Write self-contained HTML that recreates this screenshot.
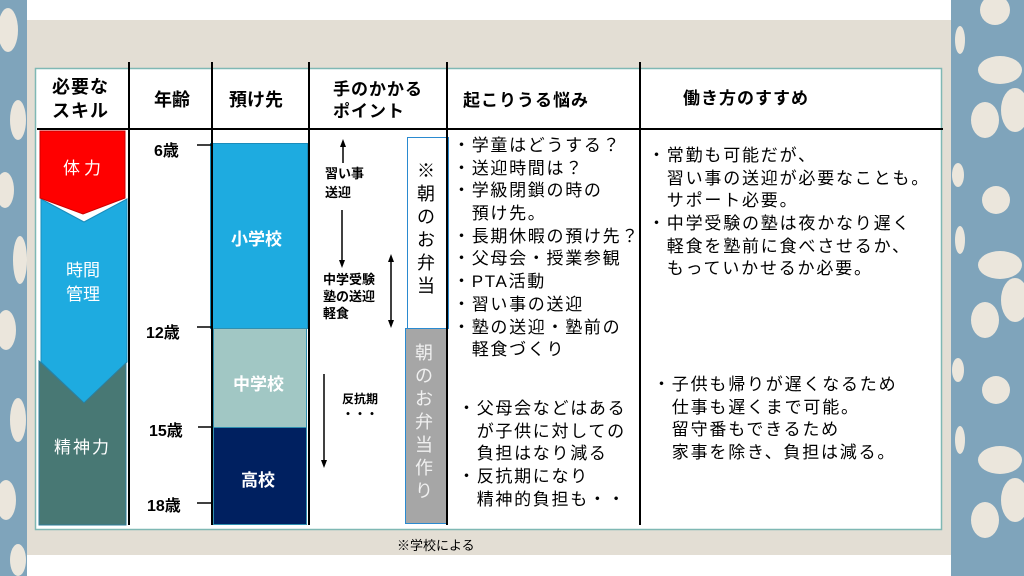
<!DOCTYPE html>
<html><head><meta charset="utf-8">
<style>
*{margin:0;padding:0;box-sizing:border-box}
body{width:1024px;height:576px;position:relative;overflow:hidden;background:#fff;font-family:"Liberation Sans","Noto Sans CJK JP",sans-serif;color:#000}
.a{position:absolute}
.b{font-weight:bold}
.vl{position:absolute;width:1.5px;background:#000}
.hl{position:absolute;height:1.5px;background:#000}
.w{color:#fff}
.lines div{height:22.7px;line-height:22.7px;white-space:nowrap}
</style></head><body>
<svg class="a" style="left:0;top:0" width="1024" height="576">
<rect x="0" y="0" width="27" height="576" fill="#7fa4bb"/>
<g fill="#ebe6dc">
<ellipse cx="8" cy="30" rx="10" ry="22"/><ellipse cx="18" cy="120" rx="8" ry="20"/><ellipse cx="5" cy="190" rx="9" ry="18"/>
<ellipse cx="20" cy="260" rx="7" ry="24"/><ellipse cx="6" cy="330" rx="10" ry="20"/><ellipse cx="18" cy="420" rx="8" ry="22"/>
<ellipse cx="6" cy="500" rx="10" ry="20"/><ellipse cx="18" cy="560" rx="8" ry="16"/>
</g>
<rect x="951" y="0" width="73" height="576" fill="#7fa4bb"/>
<g fill="#ebe6dc">
<circle cx="995" cy="10" r="15"/><ellipse cx="1000" cy="70" rx="22" ry="14"/><ellipse cx="1015" cy="110" rx="14" ry="22"/><ellipse cx="985" cy="120" rx="14" ry="18"/>
<circle cx="996" cy="200" r="14"/><ellipse cx="1000" cy="265" rx="22" ry="14"/><ellipse cx="1015" cy="300" rx="14" ry="22"/><ellipse cx="985" cy="320" rx="14" ry="18"/>
<circle cx="996" cy="390" r="14"/><ellipse cx="1000" cy="460" rx="22" ry="14"/><ellipse cx="1015" cy="500" rx="14" ry="22"/><ellipse cx="985" cy="520" rx="14" ry="18"/>
<ellipse cx="960" cy="40" rx="5" ry="14"/><ellipse cx="958" cy="175" rx="6" ry="12"/><ellipse cx="960" cy="240" rx="5" ry="14"/><ellipse cx="958" cy="370" rx="6" ry="12"/><ellipse cx="960" cy="440" rx="5" ry="14"/>
</g>
<rect x="27" y="20" width="924" height="535" fill="#e3ded4"/>
<rect x="35.5" y="68.5" width="906" height="461" fill="#fff" stroke="#7fb8b4" stroke-width="1.5"/>
<polygon points="41,199 84,222 127,199 127,362 84,403 41,362" fill="#1eabe0" stroke="#1a8cbb" stroke-width="1"/>
<polygon points="40,131 125,131 125,198 83,214 40,198" fill="#ff0000" stroke="#c00" stroke-width="1"/>
<polygon points="39,361 84,403 126,363 126,525 39,525" fill="#487874" stroke="#2f7f9b" stroke-width="1"/>
<rect x="210.5" y="143.5" width="97" height="185" fill="#1eabe0" stroke="#1a8cbb"/>
<rect x="213.5" y="328.5" width="93" height="99" fill="#a1c7c4" stroke="#2f8fb0"/>
<rect x="213.5" y="427.5" width="93" height="97" fill="#002060" stroke="#2f8fb0"/>
<rect x="407.5" y="137.5" width="41" height="191" fill="#fff" stroke="#2a8ad0"/>
<rect x="405.5" y="328.5" width="42" height="195" fill="#a6a6a6" stroke="#2a8ad0"/>
<g stroke="#000" stroke-width="1.5">
<line x1="197" y1="145" x2="211" y2="145"/><line x1="197" y1="327" x2="211" y2="327"/>
<line x1="198" y1="427" x2="212" y2="427"/><line x1="197" y1="503" x2="211" y2="503"/>
<line x1="343" y1="145" x2="343" y2="163"/><line x1="342" y1="210" x2="342" y2="262"/>
<line x1="391" y1="260" x2="391" y2="322"/><line x1="324" y1="374" x2="324" y2="462"/>
</g>
<g fill="#000">
<polygon points="343,139 340,147 346,147"/><polygon points="342,268 339,260 345,260"/>
<polygon points="391,254 388,262 394,262"/><polygon points="391,328 388,320 394,320"/>
<polygon points="324,468 321,460 327,460"/>
</g>
</svg>
<div class="vl" style="left:128px;top:62px;height:463px"></div>
<div class="vl" style="left:211px;top:62px;height:463px"></div>
<div class="vl" style="left:308px;top:62px;height:463px"></div>
<div class="vl" style="left:446px;top:62px;height:463px"></div>
<div class="vl" style="left:639px;top:62px;height:463px"></div>
<div class="hl" style="left:37px;top:128px;width:906px"></div>
<div class="a b" style="left:52px;top:75px;font-size:18px;line-height:24px;letter-spacing:1px">必要な<br>スキル</div>
<div class="a b" style="left:154px;top:86px;font-size:18px">年齢</div>
<div class="a b" style="left:229px;top:86px;font-size:18px">預け先</div>
<div class="a b" style="left:333px;top:79px;font-size:17px;line-height:22px;letter-spacing:1px">手のかかる<br>ポイント</div>
<div class="a b" style="left:463px;top:86px;font-size:17px;letter-spacing:1px">起こりうる悩み</div>
<div class="a b" style="left:683px;top:84px;font-size:17px;letter-spacing:1px">働き方のすすめ</div>
<div class="a w" style="left:63px;top:154px;font-size:17px;letter-spacing:4px">体力</div>
<div class="a w" style="left:66px;top:259px;font-size:17px;line-height:24px">時間<br>管理</div>
<div class="a w" style="left:54px;top:433px;font-size:17px;letter-spacing:2px">精神力</div>
<div class="a b" style="left:154px;top:137px;font-size:16px">6歳</div>
<div class="a b" style="left:146px;top:319px;font-size:16px">12歳</div>
<div class="a b" style="left:149px;top:417px;font-size:16px">15歳</div>
<div class="a b" style="left:147px;top:492px;font-size:16px">18歳</div>
<div class="a b w" style="left:231px;top:225px;font-size:17px">小学校</div>
<div class="a b w" style="left:233px;top:370px;font-size:17px">中学校</div>
<div class="a b w" style="left:241px;top:466px;font-size:17px">高校</div>
<div class="a b" style="left:325px;top:164px;font-size:13px;line-height:19px">習い事<br>送迎</div>
<div class="a b" style="left:323px;top:271px;font-size:13px;line-height:17px">中学受験<br>塾の送迎<br>軽食</div>
<div class="a b" style="left:342px;top:392px;font-size:12px;line-height:15px">反抗期<br>・・・</div>
<div class="a" style="left:417px;top:160px;font-size:18px;line-height:23px;width:22px">※<br>朝<br>の<br>お<br>弁<br>当</div>
<div class="a w" style="left:415px;top:342px;font-size:18px;line-height:23px;width:22px;color:#f0f0f0">朝<br>の<br>お<br>弁<br>当<br>作<br>り</div>
<div class="a lines" style="left:453px;top:135px;font-size:17px;letter-spacing:1.7px">
<div>・学童はどうする？</div><div>・送迎時間は？</div><div>・学級閉鎖の時の</div><div>　預け先。</div><div>・長期休暇の預け先？</div><div>・父母会・授業参観</div><div>・PTA活動</div><div>・習い事の送迎</div><div>・塾の送迎・塾前の</div><div>　軽食づくり</div>
</div>
<div class="a lines" style="left:458px;top:398px;font-size:17px;letter-spacing:1.7px">
<div>・父母会などはある</div><div>　が子供に対しての</div><div>　負担はなり減る</div><div>・反抗期になり</div><div>　精神的負担も・・</div>
</div>
<div class="a lines" style="left:648px;top:145px;font-size:17px;letter-spacing:1.8px">
<div>・常勤も可能だが、</div><div>　習い事の送迎が必要なことも。</div><div>　サポート必要。</div><div>・中学受験の塾は夜かなり遅く</div><div>　軽食を塾前に食べさせるか、</div><div>　もっていかせるか必要。</div>
</div>
<div class="a lines" style="left:653px;top:374px;font-size:17px;letter-spacing:1.8px">
<div>・子供も帰りが遅くなるため</div><div>　仕事も遅くまで可能。</div><div>　留守番もできるため</div><div>　家事を除き、負担は減る。</div>
</div>
<div class="a" style="left:397px;top:535px;font-size:13px">※学校による</div>
</body></html>
